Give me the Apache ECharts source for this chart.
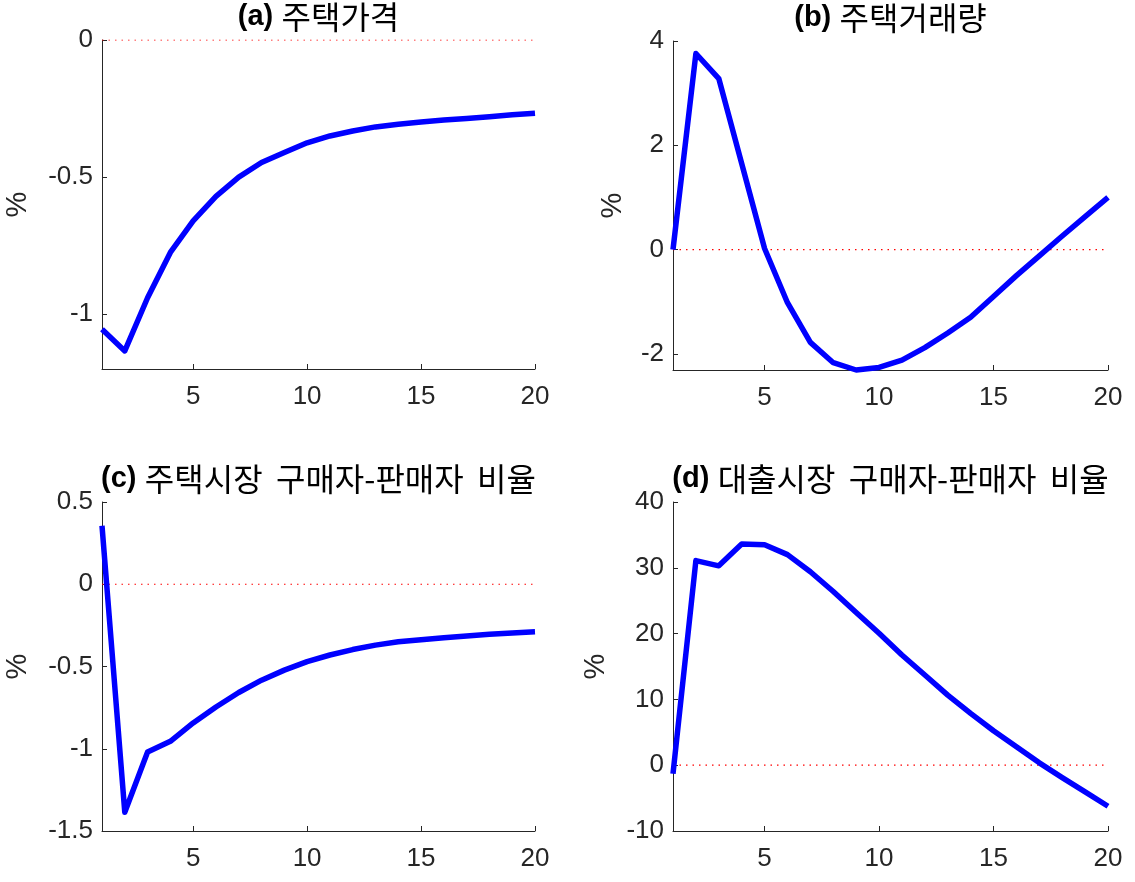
<!DOCTYPE html>
<html><head><meta charset="utf-8">
<script src="https://cdn.jsdelivr.net/npm/echarts@6/dist/echarts.min.js"></script>
<style>html,body{margin:0;padding:0;background:#fff}#c{width:1135px;height:882px}</style>
</head><body><div id="c"></div>
<script>
// ---- data ----
const periods = [1,2,3,4,5,6,7,8,9,10,11,12,13,14,15,16,17,18,19,20];
const housePrice = [-1.055,-1.134,-0.94,-0.775,-0.66,-0.57,-0.50,-0.447,-0.41,-0.375,-0.35,-0.332,-0.317,-0.307,-0.299,-0.292,-0.286,-0.28,-0.273,-0.267];
const houseVolume = [0,3.76,3.28,1.65,0.02,-1.02,-1.78,-2.17,-2.31,-2.26,-2.12,-1.88,-1.6,-1.3,-0.9,-0.5,-0.12,0.26,0.63,1.0];
const houseRatio = [0.356,-1.386,-1.02,-0.955,-0.843,-0.746,-0.658,-0.583,-0.522,-0.47,-0.43,-0.397,-0.37,-0.35,-0.337,-0.325,-0.314,-0.304,-0.296,-0.289];
const loanRatio = [-1.3,31.1,30.3,33.6,33.5,32.0,29.4,26.4,23.2,20.05,16.75,13.7,10.66,7.87,5.23,2.8,0.36,-1.88,-4.06,-6.24];
const zeroLine = [[1,0],[20,0]];
const panelTags = ['(a)','(b)','(c)','(d)'];
const panelWords = [['주택가격'],['주택거래량'],['주택시장','구매자-판매자','비율'],['대출시장','구매자-판매자','비율']];
const yLabelText = '%';
const xTickValues = [5,10,15,20];
const yTickValues = [[-1,-0.5,0],[-2,0,2,4],[-1.5,-1,-0.5,0,0.5],[-10,0,10,20,30,40]];
const yMins = [-1.2,-2.31,-1.5,-10];
const yMaxs = [0,4,0.5,40];
const seriesValues = [housePrice, houseVolume, houseRatio, loanRatio];

// ---- layout ----
const grids = [
  {left:102, top:40, width:433, height:329},
  {left:673, top:41, width:435, height:329},
  {left:102, top:502, width:433, height:329},
  {left:673, top:502, width:435, height:329}
];
const nameGaps = [70, 46, 70, 63];
const axisColor = '#262626';
const tickFont = 'Liberation Sans, Arial, sans-serif';

const zeroSeries = grids.map((g,i)=>({
  type:'line', xAxisIndex:i, yAxisIndex:i, data:zeroLine,
  showSymbol:false, symbol:'none', silent:true, z:2,
  lineStyle:{color:'#ff0000', type:[1.5,5], width:1.2}
}));
const mainSeries = seriesValues.map((vals,i)=>({
  type:'line', xAxisIndex:i, yAxisIndex:i,
  data: periods.map((p,k)=>[p, vals[k]]),
  showSymbol:false, symbol:'none', clip:false,
  lineStyle:{color:'#0000ff', width:5.5, join:'round'},
  z:3
}));

const option = {
  animation:false,
  backgroundColor:'#fff',
  grid: grids,
  xAxis: grids.map((g,i)=>({
    type:'value', gridIndex:i, min:1, max:20,
    axisLine:{show:true, onZero:false, lineStyle:{color:axisColor, width:1}},
    axisTick:{show:true, inside:true, length:5, customValues:xTickValues, lineStyle:{color:axisColor}},
    axisLabel:{show:true, customValues:xTickValues, color:axisColor, fontSize:26, fontFamily:tickFont, margin:15},
    splitLine:{show:false}
  })),
  yAxis: grids.map((g,i)=>({
    type:'value', gridIndex:i, min:yMins[i], max:yMaxs[i],
    name:yLabelText, nameLocation:'middle', nameRotate:90, nameGap:nameGaps[i],
    nameTextStyle:{color:axisColor, fontSize:29, fontFamily:tickFont},
    axisLine:{show:true, onZero:false, lineStyle:{color:axisColor, width:1}},
    axisTick:{show:true, inside:true, length:5, customValues:yTickValues[i], lineStyle:{color:axisColor}},
    axisLabel:{show:true, customValues:yTickValues[i], color:axisColor, fontSize:26, fontFamily:tickFont, margin:9},
    splitLine:{show:false}
  })),
  series: zeroSeries.concat(mainSeries),
  graphic: grids.map((g,i)=>{
    const parts = ['{b|' + panelTags[i] + '}{s| }'];
    panelWords[i].forEach((w,j)=>{ if(j>0) parts.push('{w| }'); parts.push('{k|' + w + '}'); });
    return {
      type:'text', x: g.left + g.width/2, y: g.top - 23,
      style:{
        text: parts.join(''), align:'center', verticalAlign:'middle', fill:'#000',
        rich:{
          b:{fontFamily:tickFont, fontWeight:'bold', fontSize:29, fill:'#000', lineHeight:34},
          s:{fontFamily:tickFont, fontSize:30, lineHeight:34},
          w:{fontFamily:tickFont, fontSize:48, lineHeight:34},
          k:{fontFamily:'Noto Sans CJK KR', fontSize:32, fill:'#000', lineHeight:34}
        }
      }
    };
  })
};
const chart = echarts.init(document.getElementById('c'));
chart.setOption(option);
</script></body></html>
